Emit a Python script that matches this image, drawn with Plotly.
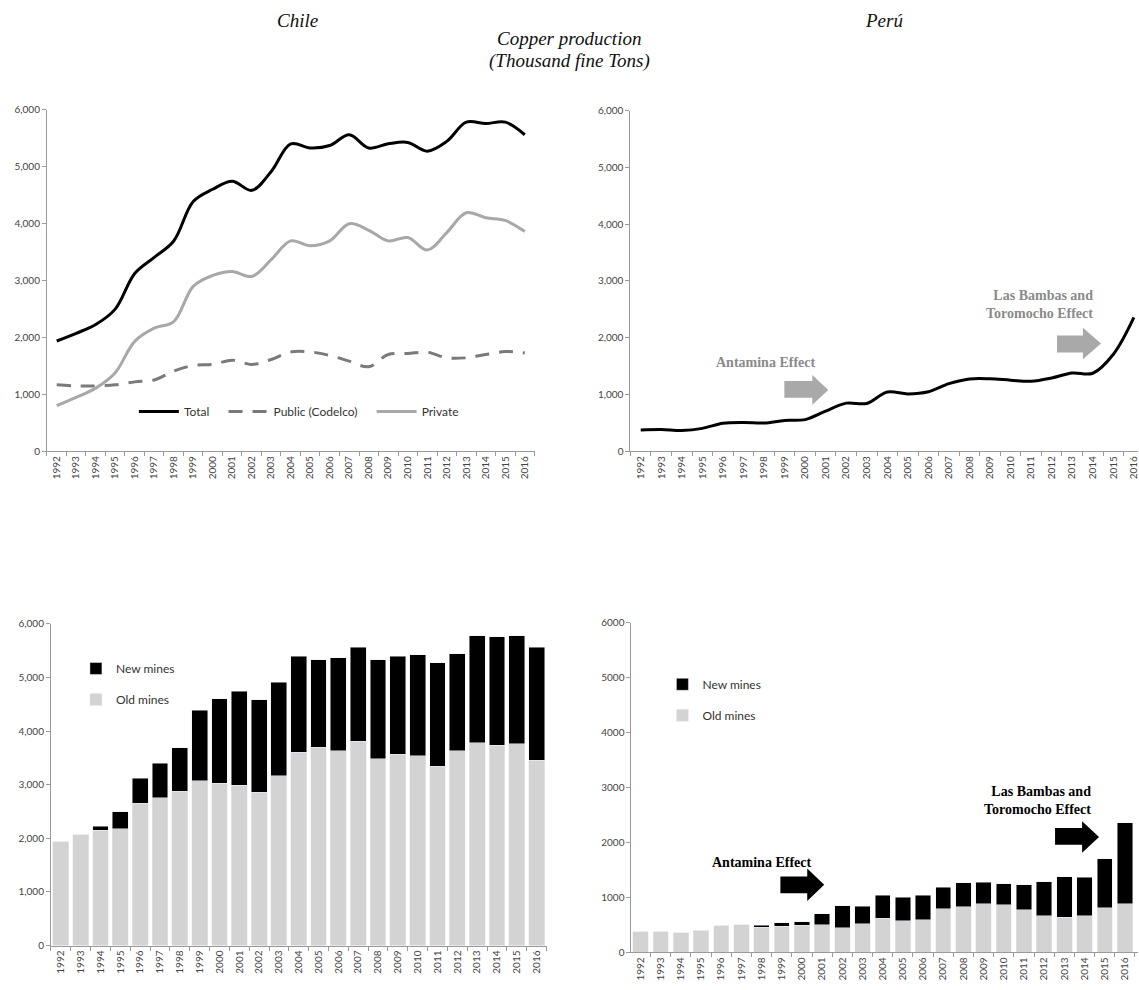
import plotly.graph_objects as go

# ---------------- data ----------------
years = list(range(1992, 2017))
year_labels = [str(y) for y in years]

chile_total = [1935, 2070, 2224, 2494, 3120, 3403, 3692, 4386, 4601, 4742, 4582, 4914, 5399,
               5326, 5369, 5559, 5326, 5399, 5424, 5270, 5442, 5780, 5755, 5780, 5559]
chile_public = [1164, 1146, 1146, 1164, 1216, 1250, 1407, 1505, 1523, 1598, 1523, 1610, 1743,
                1743, 1679, 1580, 1482, 1697, 1714, 1737, 1639, 1639, 1697, 1749, 1725]
chile_private = [799, 944, 1106, 1378, 1928, 2160, 2276, 2895, 3086, 3156, 3069, 3364, 3694,
                 3607, 3694, 3995, 3880, 3694, 3752, 3532, 3839, 4187, 4100, 4053, 3857]
chile_old = [1935, 2070, 2150, 2180, 2654, 2752, 2875, 3071, 3022, 2991, 2856, 3163, 3600,
             3698, 3636, 3814, 3483, 3563, 3538, 3341, 3636, 3778, 3735, 3759, 3458]
chile_new = [0, 0, 74, 314, 466, 651, 817, 1315, 1579, 1751, 1726, 1751, 1799,
             1628, 1733, 1745, 1843, 1836, 1886, 1929, 1806, 2002, 2020, 2021, 2101]

peru_total = [372, 380, 362, 400, 490, 505, 495, 540, 555, 705, 845, 840, 1040,
              1008, 1045, 1188, 1272, 1275, 1250, 1230, 1288, 1376, 1372, 1706, 2356]
peru_old = [372, 380, 362, 400, 490, 505, 461, 479, 491, 503, 449, 521, 622,
            581, 599, 791, 827, 887, 869, 773, 671, 641, 671, 809, 887]
peru_new = [0, 0, 0, 0, 0, 0, 34, 61, 64, 202, 396, 319, 418,
            427, 446, 397, 445, 388, 381, 457, 617, 735, 701, 897, 1469]

# ---------------- styles ----------------
TICK_FONT = dict(family="Lato, 'Open Sans', sans-serif", size=10, color="#444")
LEG_FONT = dict(family="Lato, 'Open Sans', sans-serif", size=12, color="#333")
TITLE_FONT = dict(family="'Liberation Serif', 'DejaVu Serif', serif", size=19, color="#111")
AXIS_COLOR = "#9a9a9a"
OLD_COLOR = "#d3d3d3"
W, H = 1139, 990
NB = "\u00a0"

fig = go.Figure()

# Top-left: Chile lines
fig.add_trace(go.Scatter(x=years, y=chile_total, name="Total" + NB * 3, mode="lines",
                         line=dict(color="black", width=3, shape="spline"),
                         xaxis="x", yaxis="y", legend="legend"))
fig.add_trace(go.Scatter(x=years, y=chile_public, name="Public (Codelco)" + NB * 3, mode="lines",
                         line=dict(color="#7a7a7a", width=3, shape="spline", dash="14px,10px"),
                         xaxis="x", yaxis="y", legend="legend"))
fig.add_trace(go.Scatter(x=years, y=chile_private, name="Private", mode="lines",
                         line=dict(color="#a8a8a8", width=3, shape="spline"),
                         xaxis="x", yaxis="y", legend="legend"))

# Top-right: Peru line
fig.add_trace(go.Scatter(x=years, y=peru_total, name="Perú", mode="lines", showlegend=False,
                         line=dict(color="black", width=3, shape="spline"),
                         xaxis="x2", yaxis="y2"))

# Bottom-left: Chile bars
fig.add_trace(go.Bar(x=years, y=chile_old, name="Old mines", marker_color=OLD_COLOR,
                     width=0.8, xaxis="x3", yaxis="y3", legend="legend2",
                     legendgroup="old_c", legendrank=2))
fig.add_trace(go.Bar(x=years, y=chile_new, name="New mines", marker_color="black",
                     width=0.8, xaxis="x3", yaxis="y3", legend="legend2",
                     legendgroup="new_c", legendrank=1))

# Bottom-right: Peru bars
fig.add_trace(go.Bar(x=years, y=peru_old, name="Old mines", marker_color=OLD_COLOR,
                     width=0.76, xaxis="x4", yaxis="y4", legend="legend3",
                     legendgroup="old_p", legendrank=2))
fig.add_trace(go.Bar(x=years, y=peru_new, name="New mines", marker_color="black",
                     width=0.76, xaxis="x4", yaxis="y4", legend="legend3",
                     legendgroup="new_p", legendrank=1))


def xaxis_cfg(domain, rng, anchor):
    return dict(domain=domain, range=rng, anchor=anchor, tickmode="array",
                tickvals=years, ticktext=year_labels, tickangle=-90, ticks="",
                tickfont=TICK_FONT, showline=True, linecolor=AXIS_COLOR, linewidth=1,
                showgrid=False, zeroline=False, fixedrange=True, ticklabeloverflow="allow",
                minor=dict(tickmode="array", tickvals=[y - 0.5 for y in years] + [2016.5],
                           ticks="outside", ticklen=4, tickcolor=AXIS_COLOR, tickwidth=1,
                           showgrid=False))


def yaxis_cfg(domain, anchor, fmt):
    return dict(domain=domain, range=[0, 6000], anchor=anchor, tickmode="linear",
                tick0=0, dtick=1000, tickformat=fmt, ticks="outside", ticklen=4,
                tickcolor=AXIS_COLOR, tickfont=TICK_FONT, showline=True,
                linecolor=AXIS_COLOR, linewidth=1, showgrid=False, zeroline=False)


def px_x(p):
    return p / W


def px_y(p):
    return 1 - p / H


fig.update_layout(
    width=W, height=H, margin=dict(l=0, r=0, t=0, b=0),
    paper_bgcolor="white", plot_bgcolor="white", barmode="stack",
    xaxis=xaxis_cfg([px_x(47), px_x(535)], [1991.5, 2016.5], "y"),
    yaxis=yaxis_cfg([px_y(450), px_y(104)], "x", ",d"),
    xaxis2=xaxis_cfg([px_x(631), 1.0], [1991.5, 2016.2], "y2"),
    yaxis2=yaxis_cfg([px_y(450), px_y(105)], "x2", ",d"),
    xaxis3=xaxis_cfg([px_x(51), px_x(547)], [1991.5, 2016.5], "y3"),
    yaxis3=yaxis_cfg([px_y(951), px_y(625)], "x3", ",d"),
    xaxis4=xaxis_cfg([px_x(632), 1.0], [1991.55, 2016.65], "y4"),
    yaxis4=yaxis_cfg([px_y(958), px_y(624)], "x4", "d"),
    legend=dict(orientation="h", x=px_x(134), y=px_y(410), xanchor="left", yanchor="middle",
                font=LEG_FONT, itemwidth=40, bgcolor="rgba(0,0,0,0)"),
    legend2=dict(orientation="v", x=px_x(76), y=px_y(686), xanchor="left", yanchor="middle",
                 font=LEG_FONT, traceorder="grouped", tracegroupgap=12,
                 bgcolor="rgba(0,0,0,0)"),
    legend3=dict(orientation="v", x=px_x(663), y=px_y(702), xanchor="left", yanchor="middle",
                 font=LEG_FONT, traceorder="grouped", tracegroupgap=12,
                 bgcolor="rgba(0,0,0,0)"),
)


def arrow(xref, yref, x0, xh, xt, yb_top, yb_bot, yh_top, yh_bot, color):
    ytip = (yh_top + yh_bot) / 2
    path = (f"M {x0},{yb_top} L {xh},{yb_top} L {xh},{yh_top} L {xt},{ytip} "
            f"L {xh},{yh_bot} L {xh},{yb_bot} L {x0},{yb_bot} Z")
    return dict(type="path", path=path, xref=xref, yref=yref, fillcolor=color,
                line=dict(width=0), layer="above")


GRAY_ARROW = "#a9a9a9"
shapes = [
    arrow("x2", "y2", 1998.99, 2000.35, 2001.13, 1235, 939, 1339, 817, GRAY_ARROW),
    arrow("x2", "y2", 2012.26, 2013.52, 2014.40, 2035, 1739, 2174, 1617, GRAY_ARROW),
    arrow("x4", "y4", 1998.93, 2000.26, 2001.10, 1383, 1078, 1527, 934, "black"),
    arrow("x4", "y4", 2012.54, 2013.88, 2014.72, 2263, 1958, 2389, 1814, "black"),
]
fig.update_layout(shapes=shapes)

ANN_FONT = "'Liberation Serif', 'DejaVu Serif', serif"
annotations = [
    dict(text="<i>Chile</i>", x=px_x(298), y=px_y(14), xref="paper", yref="paper",
         showarrow=False, font=TITLE_FONT, xanchor="center", yanchor="middle"),
    dict(text="<i>Perú</i>", x=px_x(885), y=px_y(14), xref="paper", yref="paper",
         showarrow=False, font=TITLE_FONT, xanchor="center", yanchor="middle"),
    dict(text="<i>Copper production</i>", x=px_x(570), y=px_y(32), xref="paper", yref="paper",
         showarrow=False, font=TITLE_FONT, xanchor="center", yanchor="middle"),
    dict(text="<i>(Thousand fine Tons)</i>", x=px_x(570), y=px_y(55), xref="paper",
         yref="paper", showarrow=False, font=TITLE_FONT, xanchor="center", yanchor="middle"),
    dict(text="<b>Antamina Effect</b>", x=1998.06, y=1565, xref="x2", yref="y2",
         showarrow=False, font=dict(family=ANN_FONT, size=14, color="#8a8a8a"),
         xanchor="center", yanchor="middle"),
    dict(text="<b>Las Bambas and<br>Toromocho Effect</b>", x=2014.11, y=2580, xref="x2",
         yref="y2", showarrow=False, align="right",
         font=dict(family=ANN_FONT, size=14, color="#8a8a8a"),
         xanchor="right", yanchor="middle"),
    dict(text="<b>Antamina Effect</b>", x=1997.99, y=1640, xref="x4", yref="y4",
         showarrow=False, font=dict(family=ANN_FONT, size=14, color="black"),
         xanchor="center", yanchor="middle"),
    dict(text="<b>Las Bambas and<br>Toromocho Effect</b>", x=2014.42, y=2766, xref="x4",
         yref="y4", showarrow=False, align="right",
         font=dict(family=ANN_FONT, size=14, color="black"),
         xanchor="right", yanchor="middle"),
]
fig.update_layout(annotations=annotations)

fig.write_html("out.html")
